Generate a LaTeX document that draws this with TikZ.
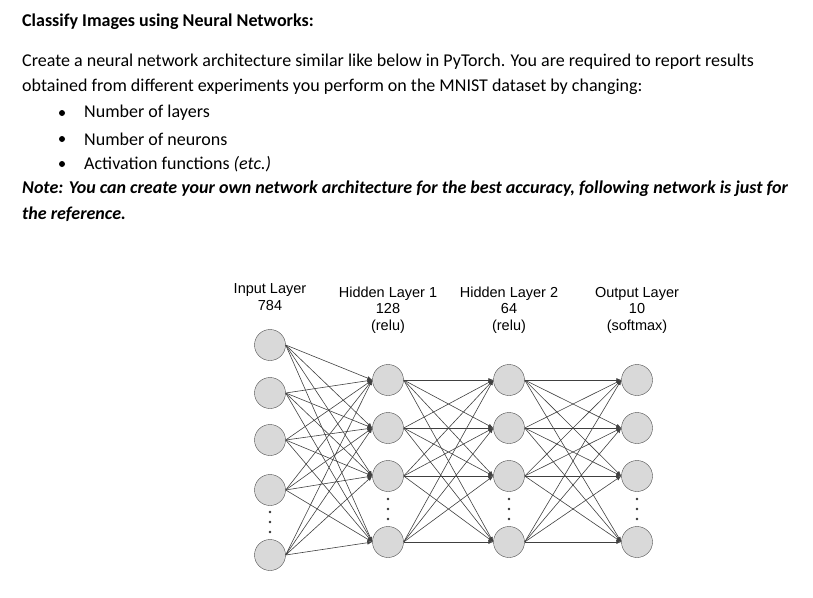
\documentclass[tikz,border=0pt]{standalone}
\usepackage{fontspec}
\setmainfont{Carlito}
\newfontfamily\arial{Liberation Sans}
\usetikzlibrary{arrows.meta}
\tikzset{
  txt/.style={anchor=west,inner sep=0pt,font=\fontsize{18}{20}\selectfont},
  lbl/.style={align=center,inner sep=0pt,font=\arial\fontsize{14.5}{16.5}\selectfont},
  neuron/.style={circle,draw=black!70,fill=black!15,minimum size=31pt,inner sep=0pt},
  edge/.style={draw=black!75,line width=0.6pt,-{Latex[length=5pt,width=4pt]}},
  dot/.style={circle,fill=black!80,inner sep=0pt,minimum size=2.6pt}
}
\begin{document}
\begin{tikzpicture}[x=1pt,y=-1pt]
\useasboundingbox (0,0) rectangle (813,597);
% task text
\node[txt,font=\bfseries\fontsize{18}{20}\selectfont] (title) at (22,22) {Classify Images using Neural Networks:};
\node[txt] (l1) at (22,62) {Create a neural network architecture similar like below in PyTorch. You are required to report results};
\node[txt] (l2) at (22,87) {obtained from different experiments you perform on the MNIST dataset by changing:};
\foreach \y/\t in {113/Number of layers,139/Number of neurons,164/{Activation functions \textit{(etc.)}}}
  \node[txt] at (84,\y) {\t};
\foreach \y in {113,139,164}
  \fill (62,\y) circle (3pt);
\node[txt,font=\bfseries\itshape\fontsize{18}{20}\selectfont] (n1) at (22,189) {Note: You can create your own network architecture for the best accuracy, following network is just for};
\node[txt,font=\bfseries\itshape\fontsize{18}{20}\selectfont] (n2) at (22,214) {the reference.};
% layer labels
\node[lbl] (lin) at (270,297) {Input Layer\\784};
\node[lbl] (lh1) at (388,310) {Hidden Layer 1\\128\\(relu)};
\node[lbl] (lh2) at (509,310) {Hidden Layer 2\\64\\(relu)};
\node[lbl] (lout) at (637,310) {Output Layer\\10\\(softmax)};
% neurons
\foreach \i/\y in {1/345,2/393,3/440,4/490,5/555}
  \node[neuron] (i\i) at (270,\y) {};
\foreach \i/\y in {1/380,2/428,3/476,4/542}{
  \node[neuron] (a\i) at (388,\y) {};
  \node[neuron] (b\i) at (509,\y) {};
  \node[neuron] (o\i) at (637,\y) {};
}
\foreach \d in {-10,0,10}{
  \node[dot] at (270,522+\d) {};
  \foreach \x in {388,509,637}
    \node[dot] at (\x,509+\d) {};
}
% connections
\foreach \s in {1,...,5}
  \foreach \t in {1,...,4}
    \draw[edge] (i\s.east) -- (a\t.west);
\foreach \s in {1,...,4}
  \foreach \t in {1,...,4}{
    \draw[edge] (a\s.east) -- (b\t.west);
    \draw[edge] (b\s.east) -- (o\t.west);
  }
\end{tikzpicture}
\end{document}
